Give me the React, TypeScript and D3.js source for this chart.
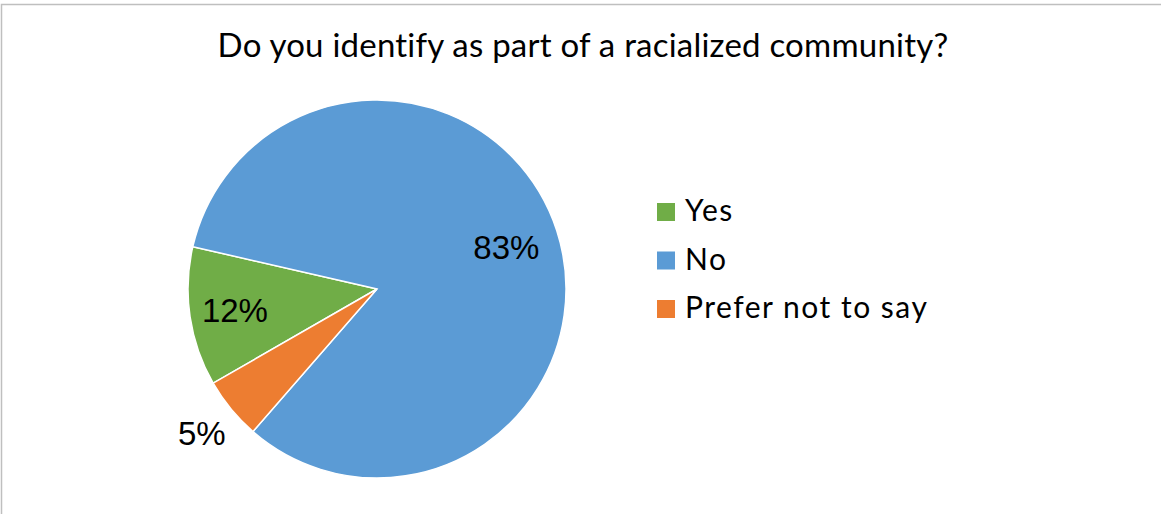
import React from "react";
import * as d3 from "d3";

const title = "Do you identify as part of a racialized community?";
const categories = ["Yes", "No", "Prefer not to say"];
const values = [11.9, 82.8, 5.3];
const labels = ["12%", "83%", "5%"];
const colors = ["#70AD47", "#5B9BD5", "#ED7D31"];

const W = 1161;
const H = 514;

export default function App() {
  const cx = 377;
  const cy = 289;
  const R = 189;
  const startAngle = (240.1 * Math.PI) / 180;

  const pie = d3
    .pie<number>()
    .sort(null)
    .value((d) => d)
    .startAngle(startAngle)
    .endAngle(startAngle + 2 * Math.PI);
  const arcs = pie(values);
  const arc = d3.arc<d3.PieArcDatum<number>>().innerRadius(0).outerRadius(R);

  const legendX = 657;
  const legendY = 203;
  const legendStep = 48.5;

  return (
    <div style={{ position: "absolute", left: 0, top: 0 }}>
      <svg width={W} height={H} style={{ display: "block", fontVariantLigatures: "none" }}>
        <rect x={0} y={0} width={W} height={H} fill="#fff" />
        <rect x={1.5} y={4.5} width={W + 10} height={H + 10} fill="#fff" stroke="#BFBFBF" strokeWidth={1.5} />
        <text
          x={583}
          y={57}
          textAnchor="middle"
          fontFamily="Lato"
          fontSize={33}
          letterSpacing={0.22}
          fill="#000"
        >
          {title}
        </text>
        <g transform={`translate(${cx},${cy})`}>
          {arcs.map((a, i) => (
            <path key={i} d={arc(a) || ""} fill={colors[i]} stroke="#fff" strokeWidth={1.5} />
          ))}
          {arcs.map((a, i) => {
            const mid = (a.startAngle + a.endAngle) / 2;
            const share = (a.endAngle - a.startAngle) / (2 * Math.PI);
            const rr = share < 0.08 ? R * 1.2 : i === 0 ? R * 0.76 : R * 0.72;
            const x = Math.sin(mid) * rr;
            const y = -Math.cos(mid) * rr;
            return (
              <text
                key={"l" + i}
                x={x}
                y={y}
                dy="0.36em"
                textAnchor="middle"
                fontFamily="Liberation Sans, Arial"
                fontSize={33}
                fill="#000"
              >
                {labels[i]}
              </text>
            );
          })}
        </g>
        {categories.map((c, i) => (
          <g key={c} transform={`translate(${legendX},${legendY + i * legendStep})`}>
            <rect x={0} y={0} width={18} height={18} fill={colors[i]} />
            <text x={28} y={18} fontFamily="Lato" fontSize={30} letterSpacing={1.5} fill="#000">
              {c}
            </text>
          </g>
        ))}
      </svg>
    </div>
  );
}
